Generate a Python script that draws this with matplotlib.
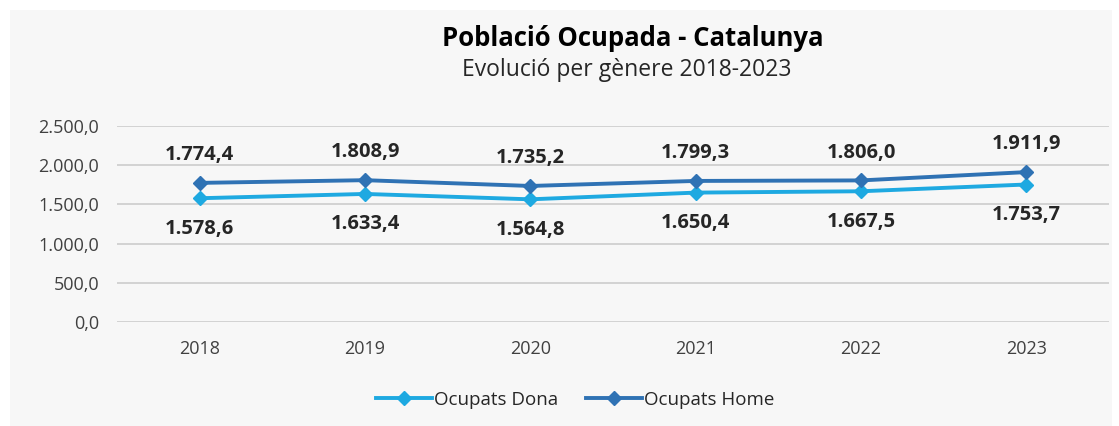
import matplotlib.pyplot as plt
from matplotlib.patches import Rectangle

# Data (milers de persones)
years = ['2018', '2019', '2020', '2021', '2022', '2023']
dona = [1578.6, 1633.4, 1564.8, 1650.4, 1667.5, 1753.7]
home = [1774.4, 1808.9, 1735.2, 1799.3, 1806.0, 1911.9]
y_ticks = [0, 500, 1000, 1500, 2000, 2500]

c_dona = '#1ea9e1'
c_home = '#2f72b4'
txt = '#262626'

plt.rcParams['font.family'] = ['Open Sans', 'DejaVu Sans']


def fmt(v):
    # format catala: 1.774,4
    s = f"{v:,.1f}"
    return s.replace(',', 'X').replace('.', ',').replace('X', '.')


fig = plt.figure(figsize=(11.19, 4.26), dpi=100)
fig.patch.set_facecolor('white')
# grey panel behind the chart
fig.patches.append(Rectangle((10 / 1119, 0), 1102 / 1119, 416 / 426,
                             transform=fig.transFigure, facecolor='#f7f7f7',
                             edgecolor='none', zorder=-10))

ax = fig.add_axes([117 / 1119, 1 - 322 / 426, 992 / 1119, 196 / 426])
ax.set_facecolor('none')

x = range(len(years))
ax.plot(x, dona, color=c_dona, lw=2.8, marker='D', ms=7, label='Ocupats Dona', zorder=3)
ax.plot(x, home, color=c_home, lw=2.8, marker='D', ms=7, label='Ocupats Home', zorder=3)

for i in x:
    ax.annotate(fmt(home[i]), (i, home[i]), xytext=(0, 20), textcoords='offset points',
                ha='center', va='center', fontsize=14.5, fontweight='bold', color=txt)
    ax.annotate(fmt(dona[i]), (i, dona[i]), xytext=(0, -22), textcoords='offset points',
                ha='center', va='center', fontsize=14.5, fontweight='bold', color=txt)

ax.set_xlim(-0.5, len(years) - 0.5)
ax.set_ylim(0, 2500)
ax.set_yticks(y_ticks)
ax.set_yticklabels([fmt(v) for v in y_ticks])
ax.set_xticks(list(x))
ax.set_xticklabels(years)
ax.tick_params(axis='both', length=0, labelsize=13, colors='#404040')
ax.tick_params(axis='x', pad=13)
ax.tick_params(axis='y', pad=13)
ax.grid(axis='y', color='#d0d0d0', lw=1.3)
ax.set_axisbelow(True)
for s in ax.spines.values():
    s.set_visible(False)

fig.text(633 / 1119, 1 - 39 / 426, 'Població Ocupada - Catalunya', ha='center', va='center',
         fontsize=18.5, fontweight='bold', color='black')
fig.text(627 / 1119, 1 - 70 / 426, 'Evolució per gènere 2018-2023', ha='center', va='center',
         fontsize=16.5, color=txt)

fig.legend(loc='center', bbox_to_anchor=(575 / 1119, 1 - 400 / 426), ncol=2, frameon=False,
           fontsize=13.5, handlelength=3, columnspacing=1.5, handletextpad=0.1,
           labelcolor=txt)

fig.savefig('out.png', dpi=100, facecolor=fig.get_facecolor())
